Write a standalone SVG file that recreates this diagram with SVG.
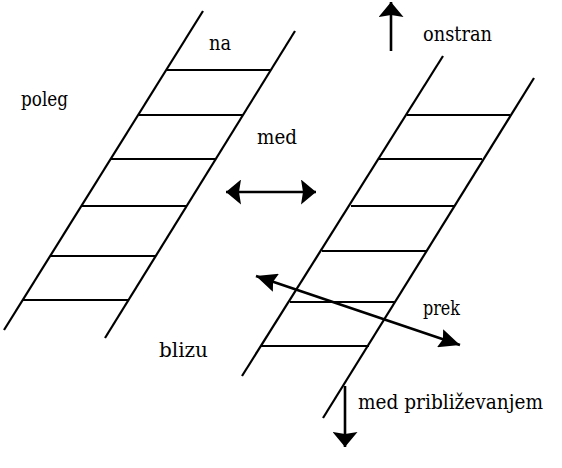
<svg xmlns="http://www.w3.org/2000/svg" width="562" height="468" viewBox="0 0 562 468">
<style>
.r{stroke:#000;stroke-width:2.2;fill:none;stroke-linecap:butt}
.a{stroke:#000;stroke-width:2.6;fill:none}
.t{font-family:"DejaVu Serif",serif;font-size:20px;fill:#000}
</style>
<defs>
<marker id="h" viewBox="0 0 15 25" refX="15" refY="12.5" markerWidth="15" markerHeight="25" markerUnits="userSpaceOnUse" orient="auto-start-reverse"><path d="M0,0 L15,12.5 L0,25 L2,12.5 Z" fill="#000"/></marker>
<marker id="hp" viewBox="0 0 21 19" refX="21" refY="9.5" markerWidth="21" markerHeight="19" markerUnits="userSpaceOnUse" orient="auto-start-reverse"><path d="M0,0 L21,9.5 L0,19 L3,9.5 Z" fill="#000"/></marker>
</defs>
<rect width="562" height="468" fill="#fff"/>
<g id="ladder-left">
<line class="r" x1="203" y1="11" x2="4" y2="330"/>
<line class="r" x1="295" y1="31" x2="105" y2="338"/>
<line class="r" x1="167" y1="70" x2="270" y2="70"/>
<line class="r" x1="139" y1="115" x2="243" y2="115"/>
<line class="r" x1="111" y1="159" x2="215" y2="159"/>
<line class="r" x1="82" y1="206" x2="186" y2="206"/>
<line class="r" x1="50" y1="256" x2="156" y2="256"/>
<line class="r" x1="22" y1="300" x2="129" y2="300"/>
</g>
<g id="ladder-right">
<line class="r" x1="443" y1="56" x2="242" y2="376"/>
<line class="r" x1="534" y1="78" x2="323" y2="418"/>
<line class="r" x1="407" y1="115" x2="510" y2="115"/>
<line class="r" x1="379" y1="159" x2="482" y2="159"/>
<line class="r" x1="351" y1="206" x2="454" y2="206"/>
<line class="r" x1="322" y1="251" x2="427" y2="251"/>
<line class="r" x1="290" y1="302" x2="395" y2="302"/>
<line class="r" x1="261" y1="346" x2="369" y2="346"/>
</g>
<g id="connectors">
<line class="a" x1="391" y1="51" x2="391" y2="2" marker-end="url(#h)"/>
<line class="a" x1="226" y1="192" x2="316" y2="192" marker-start="url(#h)" marker-end="url(#h)"/>
<line class="a" x1="256" y1="276" x2="460" y2="345" marker-start="url(#hp)" marker-end="url(#hp)"/>
<line class="a" x1="345" y1="386" x2="345" y2="447" marker-end="url(#h)"/>
</g>
<g id="labels">
<text class="t" x="209" y="50" textLength="22" lengthAdjust="spacingAndGlyphs">na</text>
<text class="t" x="21" y="106" textLength="47" lengthAdjust="spacingAndGlyphs">poleg</text>
<text class="t" x="257" y="144" textLength="40" lengthAdjust="spacingAndGlyphs">med</text>
<text class="t" x="423" y="41" textLength="69" lengthAdjust="spacingAndGlyphs">onstran</text>
<text class="t" x="423" y="315" textLength="37" lengthAdjust="spacingAndGlyphs">prek</text>
<text class="t" x="159" y="357" textLength="49" lengthAdjust="spacingAndGlyphs">blizu</text>
<text class="t" x="358" y="409" textLength="185" lengthAdjust="spacingAndGlyphs">med približevanjem</text>
</g>
</svg>
